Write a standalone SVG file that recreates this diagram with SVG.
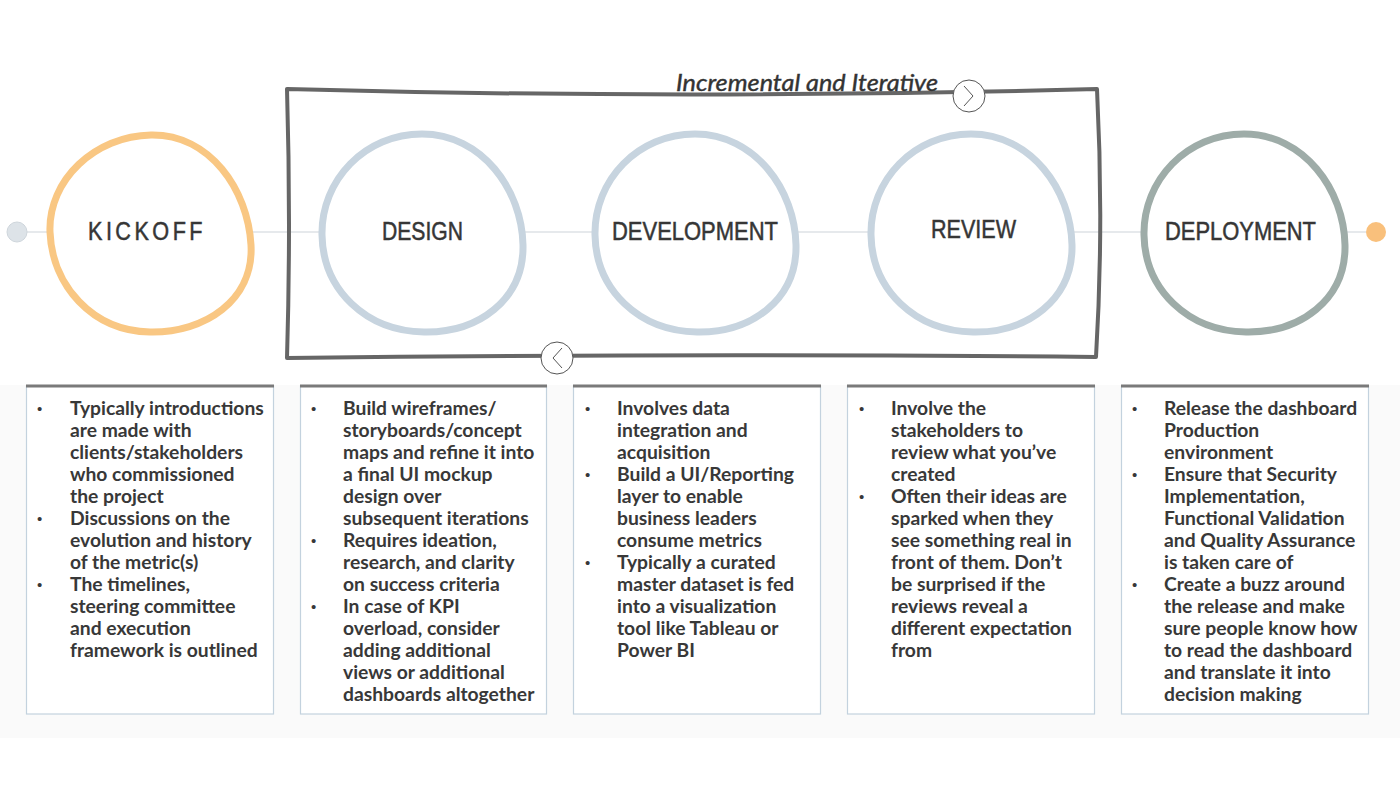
<svg xmlns="http://www.w3.org/2000/svg" width="1400" height="788" viewBox="0 0 1400 788">
<defs>
<style>
.bg{fill:#fafafa}
.card{fill:#ffffff;stroke:#c3d2de;stroke-width:1.2}
.cardtop{stroke:#7a7a7a;stroke-width:3}
.egg{fill:#ffffff;stroke-width:7}
.blue{stroke:#c7d4df}
.head{font-family:"Liberation Sans",Arial,sans-serif;font-size:25px;fill:#363636;stroke:#363636;stroke-width:0.5}
.body{font-family:Lato,"Liberation Sans",sans-serif;font-weight:bold;font-size:19.3px;fill:#383838}
.bul{font-family:"Liberation Sans",Arial,sans-serif;font-size:15px;fill:#383838}
.frame{fill:none;stroke:#666666;stroke-width:4;stroke-linejoin:round}
.arrc{fill:#ffffff;stroke:#555;stroke-width:1}
.chev{fill:none;stroke:#555;stroke-width:1}
</style>
</defs>
<rect x="0" y="0" width="1400" height="788" fill="#ffffff"/>
<rect class="bg" x="0" y="385" width="1400" height="353"/>

<g id="connectors">
<line x1="27" y1="232" x2="1366" y2="232" stroke="#ced4da" stroke-width="1.2"/>
</g>

<g id="start-dot"><circle cx="17" cy="232" r="10" fill="#dde3e8" stroke="#cfd6dc" stroke-width="1"/></g>
<g id="end-dot"><circle cx="1376" cy="232" r="10" fill="#f9c07c"/></g>

<g id="loop-frame">
<path class="frame" d="M287,89 Q690,100 1097,89 Q1104,225 1096,357 Q690,353 287,358 Q291,225 287,89 Z"/>
<circle class="arrc" cx="969" cy="96" r="16"/>
<path class="chev" d="M964,86 L973,96 L964,106"/>
<circle class="arrc" cx="557" cy="358" r="16"/>
<path class="chev" d="M562,348 L553,358 L562,368"/>
<text x="676" y="91" font-family="Lato,'Liberation Sans',sans-serif" font-style="italic" font-size="23" fill="#333" stroke="#333" stroke-width="0.4" textLength="262" lengthAdjust="spacingAndGlyphs">Incremental and Iterative</text>
</g>

<g id="kickoff">
<path class="egg" stroke="#f9c783" d="M151,135 C210,134 248,190 251,245 C254,300 205,333 150,332 C92,331 52,285 50,232 C48,180 95,136 151,135 Z"/>
<text class="head" x="88" y="240" textLength="118" lengthAdjust="spacingAndGlyphs" letter-spacing="4">KICKOFF</text>
</g>

<g id="design">
<path class="egg blue" d="M422,134 C482,134 522,190 523,245 C524,300 478,333 424,332 C366,331 323,290 322,235 C321,180 365,134 422,134 Z"/>
<text class="head" x="382" y="240" textLength="81" lengthAdjust="spacingAndGlyphs">DESIGN</text>
</g>

<g id="development">
<path class="egg blue" d="M695,134 C755,134 795,190 796,245 C797,300 751,333 697,332 C639,331 596,290 595,235 C594,180 638,134 695,134 Z"/>
<text class="head" x="612" y="240" textLength="166" lengthAdjust="spacingAndGlyphs">DEVELOPMENT</text>
</g>

<g id="review">
<path class="egg blue" d="M971,134 C1031,134 1071,190 1072,245 C1073,300 1027,333 973,332 C915,331 872,290 871,235 C870,180 914,134 971,134 Z"/>
<text class="head" x="931" y="238" textLength="85" lengthAdjust="spacingAndGlyphs">REVIEW</text>
</g>

<g id="deployment">
<path class="egg" stroke="#9eaca8" d="M1244,134 C1304,134 1344,190 1345,245 C1346,300 1300,333 1246,332 C1188,331 1145,290 1144,235 C1143,180 1187,134 1244,134 Z"/>
<text class="head" x="1165" y="240" textLength="151" lengthAdjust="spacingAndGlyphs">DEPLOYMENT</text>
</g>

<g id="card-kickoff">
<rect class="card" x="26.5" y="386" width="247" height="328"/>
<line class="cardtop" x1="26" y1="386" x2="274" y2="386"/>
<text class="bul"><tspan x="37" y="414">•</tspan><tspan x="37" y="524">•</tspan><tspan x="37" y="590">•</tspan></text>
<text class="body">
<tspan x="70" y="415">Typically introductions</tspan>
<tspan x="70" y="437">are made with</tspan>
<tspan x="70" y="459">clients/stakeholders</tspan>
<tspan x="70" y="481">who commissioned</tspan>
<tspan x="70" y="503">the project</tspan>
<tspan x="70" y="525">Discussions on the</tspan>
<tspan x="70" y="547">evolution and history</tspan>
<tspan x="70" y="569">of the metric(s)</tspan>
<tspan x="70" y="591">The timelines,</tspan>
<tspan x="70" y="613">steering committee</tspan>
<tspan x="70" y="635">and execution</tspan>
<tspan x="70" y="657">framework is outlined</tspan>
</text>
</g>

<g id="card-design">
<rect class="card" x="300.5" y="386" width="246" height="328"/>
<line class="cardtop" x1="300" y1="386" x2="547" y2="386"/>
<text class="bul"><tspan x="311" y="414">•</tspan><tspan x="311" y="546">•</tspan><tspan x="311" y="612">•</tspan></text>
<text class="body">
<tspan x="343" y="415">Build wireframes/</tspan>
<tspan x="343" y="437">storyboards/concept</tspan>
<tspan x="343" y="459">maps and refine it into</tspan>
<tspan x="343" y="481">a final UI mockup</tspan>
<tspan x="343" y="503">design over</tspan>
<tspan x="343" y="525">subsequent iterations</tspan>
<tspan x="343" y="547">Requires ideation,</tspan>
<tspan x="343" y="569">research, and clarity</tspan>
<tspan x="343" y="591">on success criteria</tspan>
<tspan x="343" y="613">In case of KPI</tspan>
<tspan x="343" y="635">overload, consider</tspan>
<tspan x="343" y="657">adding additional</tspan>
<tspan x="343" y="679">views or additional</tspan>
<tspan x="343" y="701">dashboards altogether</tspan>
</text>
</g>

<g id="card-development">
<rect class="card" x="573.5" y="386" width="247" height="328"/>
<line class="cardtop" x1="573" y1="386" x2="821" y2="386"/>
<text class="bul"><tspan x="585" y="414">•</tspan><tspan x="585" y="480">•</tspan><tspan x="585" y="568">•</tspan></text>
<text class="body">
<tspan x="617" y="415">Involves data</tspan>
<tspan x="617" y="437">integration and</tspan>
<tspan x="617" y="459">acquisition</tspan>
<tspan x="617" y="481">Build a UI/Reporting</tspan>
<tspan x="617" y="503">layer to enable</tspan>
<tspan x="617" y="525">business leaders</tspan>
<tspan x="617" y="547">consume metrics</tspan>
<tspan x="617" y="569">Typically a curated</tspan>
<tspan x="617" y="591">master dataset is fed</tspan>
<tspan x="617" y="613">into a visualization</tspan>
<tspan x="617" y="635">tool like Tableau or</tspan>
<tspan x="617" y="657">Power BI</tspan>
</text>
</g>

<g id="card-review">
<rect class="card" x="847.5" y="386" width="247" height="328"/>
<line class="cardtop" x1="847" y1="386" x2="1095" y2="386"/>
<text class="bul"><tspan x="859" y="414">•</tspan><tspan x="859" y="502">•</tspan></text>
<text class="body">
<tspan x="891" y="415">Involve the</tspan>
<tspan x="891" y="437">stakeholders to</tspan>
<tspan x="891" y="459">review what you’ve</tspan>
<tspan x="891" y="481">created</tspan>
<tspan x="891" y="503">Often their ideas are</tspan>
<tspan x="891" y="525">sparked when they</tspan>
<tspan x="891" y="547">see something real in</tspan>
<tspan x="891" y="569">front of them. Don’t</tspan>
<tspan x="891" y="591">be surprised if the</tspan>
<tspan x="891" y="613">reviews reveal a</tspan>
<tspan x="891" y="635">different expectation</tspan>
<tspan x="891" y="657">from</tspan>
</text>
</g>

<g id="card-deployment">
<rect class="card" x="1121.5" y="386" width="247" height="328"/>
<line class="cardtop" x1="1121" y1="386" x2="1369" y2="386"/>
<text class="bul"><tspan x="1132" y="414">•</tspan><tspan x="1132" y="480">•</tspan><tspan x="1132" y="590">•</tspan></text>
<text class="body">
<tspan x="1164" y="415">Release the dashboard</tspan>
<tspan x="1164" y="437">Production</tspan>
<tspan x="1164" y="459">environment</tspan>
<tspan x="1164" y="481">Ensure that Security</tspan>
<tspan x="1164" y="503">Implementation,</tspan>
<tspan x="1164" y="525">Functional Validation</tspan>
<tspan x="1164" y="547">and Quality Assurance</tspan>
<tspan x="1164" y="569">is taken care of</tspan>
<tspan x="1164" y="591">Create a buzz around</tspan>
<tspan x="1164" y="613">the release and make</tspan>
<tspan x="1164" y="635">sure people know how</tspan>
<tspan x="1164" y="657">to read the dashboard</tspan>
<tspan x="1164" y="679">and translate it into</tspan>
<tspan x="1164" y="701">decision making</tspan>
</text>
</g>
</svg>
